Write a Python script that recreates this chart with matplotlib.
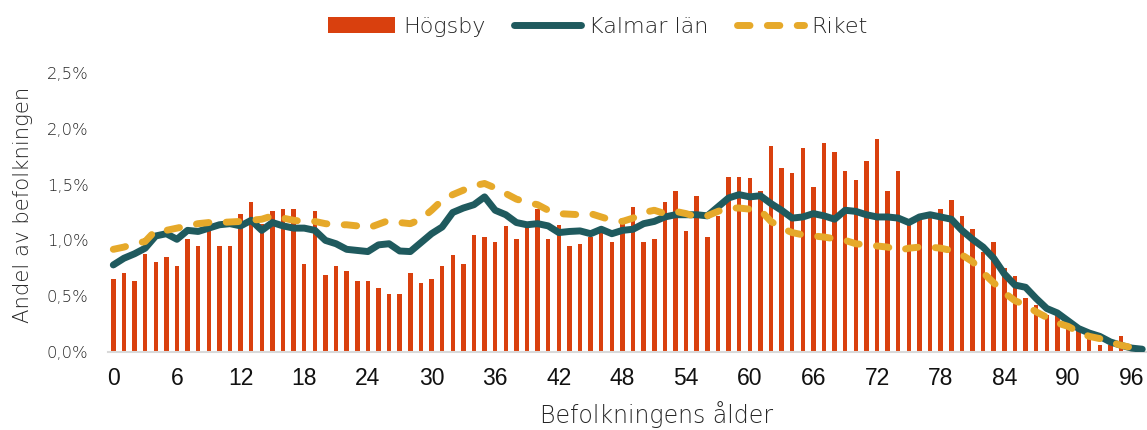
import matplotlib
matplotlib.use("Agg")
import matplotlib.pyplot as plt
from matplotlib.patches import Patch
from matplotlib.lines import Line2D
import numpy as np

ages = list(range(0, 98))

hogsby = [0.65, 0.71, 0.64, 0.88, 0.81, 0.85, 0.77, 1.01, 0.95, 1.09,
          0.95, 0.95, 1.24, 1.34, 1.15, 1.26, 1.28, 1.28, 0.79, 1.26,
          0.69, 0.77, 0.73, 0.64, 0.64, 0.57, 0.52, 0.52, 0.71, 0.62,
          0.65, 0.77, 0.87, 0.79, 1.05, 1.03, 0.99, 1.13, 1.01, 1.13,
          1.28, 1.01, 1.14, 0.95, 0.97, 1.03, 1.07, 0.99, 1.17, 1.30,
          0.99, 1.01, 1.34, 1.44, 1.08, 1.40, 1.03, 1.22, 1.57, 1.57,
          1.56, 1.44, 1.85, 1.65, 1.60, 1.83, 1.48, 1.87, 1.79, 1.62,
          1.54, 1.71, 1.91, 1.44, 1.62, 1.17, 1.18, 1.22, 1.28, 1.36,
          1.22, 1.10, 0.90, 0.99, 0.75, 0.68, 0.48, 0.42, 0.33, 0.33,
          0.23, 0.20, 0.12, 0.06, 0.06, 0.14, 0.02, 0.00]

kalmar = [0.78, 0.84, 0.88, 0.93, 1.04, 1.06, 1.01, 1.09, 1.08, 1.11,
          1.14, 1.15, 1.13, 1.18, 1.09, 1.16, 1.13, 1.11, 1.11, 1.09,
          1.00, 0.97, 0.92, 0.91, 0.90, 0.96, 0.97, 0.905, 0.90, 0.98,
          1.06, 1.12, 1.25, 1.29, 1.32, 1.39, 1.27, 1.23, 1.16, 1.14,
          1.15, 1.13, 1.07, 1.08, 1.085, 1.06, 1.10, 1.06, 1.09, 1.10,
          1.15, 1.17, 1.21, 1.23, 1.23, 1.23, 1.22, 1.30, 1.38, 1.41,
          1.39, 1.40, 1.33, 1.27, 1.20, 1.21, 1.24, 1.22, 1.19, 1.27,
          1.26, 1.23, 1.21, 1.21, 1.20, 1.16, 1.21, 1.23, 1.21, 1.19,
          1.09, 1.01, 0.94, 0.84, 0.70, 0.60, 0.58, 0.48, 0.39, 0.35,
          0.28, 0.21, 0.17, 0.14, 0.09, 0.06, 0.035, 0.025]

riket = [0.92, 0.94, 0.97, 0.99, 1.09, 1.09, 1.11, 1.13, 1.15, 1.16,
         1.16, 1.165, 1.17, 1.18, 1.19, 1.22, 1.20, 1.18, 1.17, 1.17,
         1.15, 1.14, 1.14, 1.13, 1.11, 1.145, 1.18, 1.16, 1.15, 1.19,
         1.27, 1.36, 1.41, 1.45, 1.49, 1.51, 1.47, 1.42, 1.37, 1.34,
         1.32, 1.27, 1.24, 1.235, 1.23, 1.24, 1.21, 1.18, 1.17, 1.20,
         1.25, 1.27, 1.24, 1.26, 1.24, 1.21, 1.22, 1.26, 1.29, 1.29,
         1.28, 1.27, 1.17, 1.11, 1.07, 1.05, 1.04, 1.03, 1.015, 1.00,
         0.97, 0.96, 0.95, 0.94, 0.91, 0.93, 0.94, 0.94, 0.93, 0.91,
         0.87, 0.81, 0.71, 0.62, 0.53, 0.46, 0.42, 0.36, 0.31, 0.26,
         0.23, 0.18, 0.14, 0.12, 0.09, 0.06, 0.04, 0.03]

x_ticks = list(range(0, 97, 6))
y_ticks = [0.0, 0.005, 0.010, 0.015, 0.020, 0.025]

series_names = ["Högsby", "Kalmar län", "Riket"]
c_bar = "#D9400E"
c_kal = "#1F5A5E"
c_rik = "#E6A92A"

LIGHT = ["DejaVu Sans", "Roboto"]
LW = 200
TXT = "#262626"

W, H = 1147, 430
fig = plt.figure(figsize=(W / 100, H / 100), dpi=100)
ax = fig.add_axes([108 / W, 1 - 352 / H, 1 - 108 / W, (352 - 73) / H])

x = np.array(ages)
ax.bar(x, np.array(hogsby) / 100, width=0.42, color=c_bar, zorder=2)
ax.plot(x, np.array(kalmar) / 100, color=c_kal, lw=5,
        solid_capstyle="round", solid_joinstyle="round", zorder=3)
ax.plot(x, np.array(riket) / 100, color=c_rik, lw=5,
        linestyle=(0, (1.8, 2.5)), dash_capstyle="round", zorder=4)

ax.set_xlim(-0.5, 97.45)
ax.set_ylim(0, 0.025)
ax.set_xticks(x_ticks)
ax.set_xticklabels([str(t) for t in x_ticks], fontsize=16.5,
                   family=["Liberation Sans", "DejaVu Sans"], color="#111111")
ax.set_yticks(y_ticks)
ax.set_yticklabels([f"{v*100:.1f}%".replace(".", ",") for v in y_ticks],
                   fontsize=11.8, family=LIGHT, fontweight=LW, color=TXT)
ax.tick_params(axis="both", length=0)
ax.tick_params(axis="y", pad=14)
ax.tick_params(axis="x", pad=11)

for s in ["left", "top", "right"]:
    ax.spines[s].set_visible(False)
ax.spines["bottom"].set_color("#D9D9D9")
ax.spines["bottom"].set_linewidth(1.5)
ax.set_facecolor("white")

fig.text(23 / W, 1 - 205 / H, "Andel av befolkningen", rotation=90,
         ha="center", va="center", fontsize=15.3, family=LIGHT,
         fontweight=LW, color=TXT)
fig.text(657 / W, 1 - 423 / H, "Befolkningens ålder", ha="center",
         va="baseline", fontsize=17, family=LIGHT, fontweight=LW,
         color=TXT)

handles = [
    Patch(facecolor=c_bar, edgecolor="none"),
    Line2D([0], [0], color=c_kal, lw=5, solid_capstyle="round"),
    Line2D([0], [0], color=c_rik, lw=5, linestyle=(0, (1.8, 2.5)),
           dash_capstyle="round"),
]
leg = fig.legend(handles, series_names, loc="center",
                 bbox_to_anchor=(598 / W, 1 - 27 / H), ncol=3, frameon=False,
                 handlelength=3.0, handletextpad=0.35, columnspacing=1.3,
                 prop={"family": LIGHT, "size": 16, "weight": LW})
for t in leg.get_texts():
    t.set_color(TXT)

fig.savefig("out.png", dpi=100, facecolor="white")
